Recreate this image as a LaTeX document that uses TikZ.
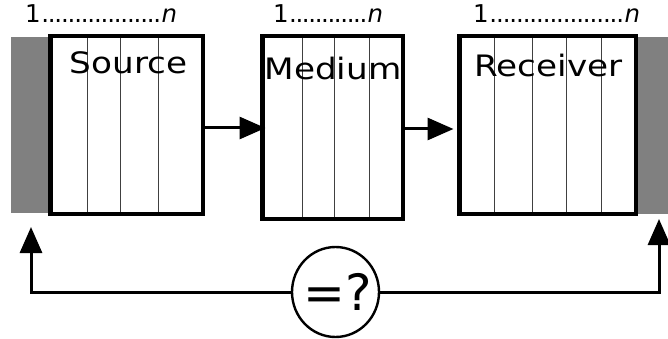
\documentclass[tikz,border=0pt]{standalone}
\usepackage{fontspec}
\usepackage{graphicx}
\setmainfont{DejaVu Sans}
\usetikzlibrary{shapes.geometric,arrows.meta}
\definecolor{bargray}{HTML}{808080}
\newcommand{\dotlabel}[1]{\hbox to #1{1\kern1pt\xleaders\hbox to 6.4pt{\hss.\hss}\hfill\kern1pt\textit{n}}}
\newcommand{\widetext}[1]{\scalebox{1.16}[1]{#1}}
\tikzset{
  box/.style={draw, line width=3pt, minimum width=#1, inner sep=0pt},
  bar/.style={fill=bargray, inner sep=0pt},
  slice/.style={line width=1pt, black!75},
  boxlabel/.style={anchor=base, inner sep=0pt, font=\fontsize{29.5}{31}\selectfont},
  idx/.style={anchor=base west, inner sep=0pt, font=\fontsize{24.5}{27}\selectfont},
  conn/.style={line width=3pt, -{Triangle[length=26pt,width=22pt]}},
}
\begin{document}
\begin{tikzpicture}[x=1pt,y=-1pt]
\useasboundingbox (0,0) rectangle (668,339);
% gray bars
\node[bar, minimum width=40pt, minimum height=176pt] (srcbar) at (31,125) {};
\node[bar, minimum width=33pt, minimum height=177pt] (rcvbar) at (651.5,125.5) {};
% boxes
\node[box=151pt, minimum height=176pt, fill=white] (src) at (126.5,125) {};
\node[box=139pt, minimum height=181pt, fill=white] (med) at (332.5,127.5) {};
\node[box=175pt, minimum height=176pt, fill=white] (rcv) at (547.5,125) {};
% slices
\foreach \x in {87,120,158} \draw[slice] (\x,38.5) -- (\x,211.5);
\foreach \x in {302,334,369} \draw[slice] (\x,38.5) -- (\x,216.5);
\foreach \x in {494,532,566,601} \draw[slice] (\x,38.5) -- (\x,211.5);
% redraw borders on top
\draw[line width=3pt] (src.north west) rectangle (src.south east);
\draw[line width=3pt] (med.north west) rectangle (med.south east);
\draw[line width=3pt] (rcv.north west) rectangle (rcv.south east);
% labels
\node[boxlabel] (srct) at (128.5,74) {\widetext{Source}};
\node[boxlabel] (medt) at (333,80) {\widetext{Medium}};
\node[boxlabel] (rcvt) at (548.5,76.5) {\widetext{Receiver}};
\node[idx] (srci) at (25,23) {\dotlabel{152pt}};
\node[idx] (medi) at (273,23) {\dotlabel{110pt}};
\node[idx] (rcvi) at (473,23) {\dotlabel{167pt}};
% forward arrows
\draw[conn, shorten >=-4pt] (src.east |- 0,128) -- (med.west |- 0,128);
\draw[conn, shorten >=5pt] (med.east |- 0,129) -- (rcv.west |- 0,129);
% comparison
\node[draw, ellipse, line width=2.4pt, minimum width=87pt, minimum height=90pt, inner sep=0pt] (eq) at (335.5,292) {};
\node[anchor=base, inner sep=0pt, font=\fontsize{50}{52}\selectfont] (eqt) at (337.5,310.5) {=?};
\coordinate (ltip) at (31,227);
\coordinate (rtip) at (659,219);
\draw[conn] (eq.west) -| (ltip);
\draw[conn] (eq.east) -| (rtip);
\end{tikzpicture}
\end{document}
